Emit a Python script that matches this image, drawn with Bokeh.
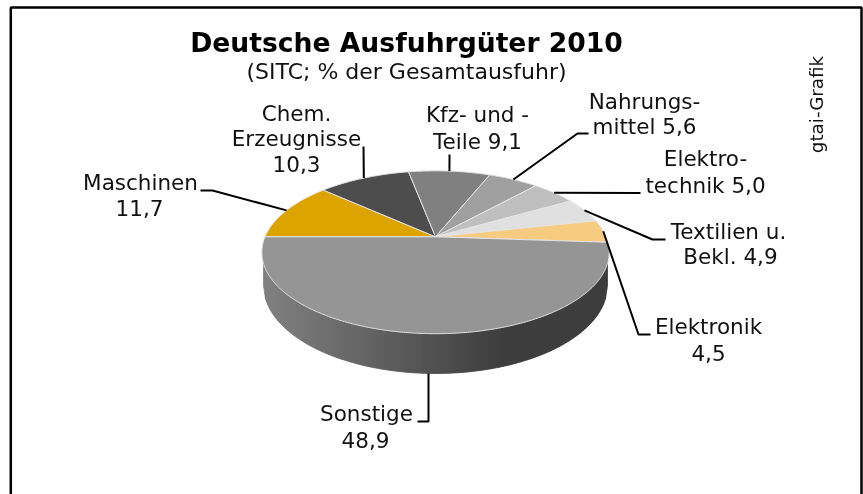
import numpy as np
from bokeh.plotting import figure
from bokeh.models import Range1d
from bokeh.core.properties import value
from bokeh.embed import file_html
from bokeh.resources import INLINE

# ---- data (clockwise from the left, horizontal edge) ----
categories = ["Maschinen", "Chem. Erzeugnisse", "Kfz- und -Teile", "Nahrungsmittel",
              "Elektrotechnik", "Textilien u. Bekl.", "Elektronik", "Sonstige"]
shares = [11.7, 10.3, 9.1, 5.6, 5.0, 4.9, 4.5, 48.9]
slice_colors = ["#DDA400", "#4D4D4D", "#808080", "#A0A0A0",
                "#BFBFBF", "#E0E0E0", "#F7CB80", "#959595"]
label_templates = [["Maschinen", "{}"], ["Chem.", "Erzeugnisse", "{}"], ["Kfz- und -", "Teile {}"],
                   ["Nahrungs-", "mittel {}"], ["Elektro-", "technik {}"],
                   ["Textilien u.", "Bekl. {}"], ["Elektronik", "{}"], ["Sonstige", "{}"]]
title_text = "Deutsche Ausfuhrgüter 2010"
subtitle_text = "(SITC; % der Gesamtausfuhr)"
source_text = "gtai-Grafik"

# ---- layout (page pixels) ----
W, H = 863, 494
FONT = value("DejaVu Sans")
CX, CY = 435.0, 236.3          # apex of the pie
R, A, K = 170.5, 78.5, 0.19    # perspective tilt of the top face
BOT_CY, BOT_RX, BOT_RY = 285.0, 172.0, 88.0   # lower rim of the wall
label_pos = [[(140, 182), (139, 207)],
             [(296, 113), (296, 138), (296, 163)],
             [(477, 114), (477, 141)],
             [(644, 101), (644, 126)],
             [(705, 158), (705, 185)],
             [(728, 231), (730, 256)],
             [(708, 326), (708, 352)],
             [(366, 413), (365, 439)]]
leader_tail = [[(212, 190), (200, 190)], [(363, 146)], [(449, 154)],
               [(577, 133), (588, 133)], [(640, 192.5)],
               [(652, 239), (665, 239)], [(638, 334), (650, 334)],
               [(428, 421), (417, 421)]]

def project(deg):
    t = np.radians(deg)
    X, Y = np.cos(t), np.sin(t)
    w = 1 + K * Y
    return CX + R * X / w, CY - A * Y / w

p = figure(width=W, height=H, output_backend="svg", toolbar_location=None,
           x_range=Range1d(0, W), y_range=Range1d(H, 0), min_border=0,
           x_axis_location=None, y_axis_location=None)
p.grid.visible = False
p.outline_line_color = None
p.styles = {"position": "fixed", "left": "0px", "top": "0px"}

# frame (its bottom edge lies outside the picture)
p.quad(left=[10.3], right=[861], top=[7], bottom=[520], fill_color="white",
       line_color="black", line_width=2.5)

# side wall as shaded vertical strips
xs_edges = np.arange(CX - BOT_RX, CX + BOT_RX + 0.01, 2.0)
def wall_bottom(x):
    return BOT_CY + BOT_RY * np.sqrt(np.clip(1 - ((x - CX) / BOT_RX) ** 2, 0, 1))
strip_x, strip_y, strip_c = [], [], []
for a, b in zip(xs_edges[:-1], xs_edges[1:]):
    strip_x.append([a, b, b, a])
    strip_y.append([251, 251, wall_bottom(b), wall_bottom(a)])
    f = min(((a + b) / 2 - (CX - BOT_RX)) / 240.0, 1.0)
    g = int(round(128 - f * 68))
    strip_c.append(f"#{g:02x}{g:02x}{g:02x}")
p.patches(strip_x, strip_y, fill_color=strip_c, line_color=strip_c, line_width=0.8)

# top face
fracs = np.array(shares) / sum(shares) * 360.0
angle = 180.0
mids = []
for frac, col in zip(fracs, slice_colors):
    th = np.linspace(angle, angle - frac, max(int(frac), 4) * 2)
    ex, ey = project(th)
    p.patch([CX, *ex], [CY, *ey], fill_color=col, line_color="#E4E4E4", line_width=1.0)
    mids.append(angle - frac / 2)
    angle -= frac

# leaders
for i, (mid, tail) in enumerate(zip(mids, leader_tail)):
    ax, ay = project(mid)
    if categories[i] == "Sonstige":
        ax, ay = tail[0][0], float(wall_bottom(tail[0][0]))
    p.line([ax] + [q[0] for q in tail], [ay] + [q[1] for q in tail],
           line_color="black", line_width=2)

# labels
for tmpl, pos, v in zip(label_templates, label_pos, shares):
    txt = [s.format(f"{v:.1f}".replace(".", ",")) for s in tmpl]
    p.text([q[0] for q in pos], [q[1] for q in pos], text=txt, text_font=FONT,
           text_font_size="21.5px", text_align="center", text_baseline="middle",
           text_color="#111111")

p.text([406], [42], text=[title_text], text_font=FONT, text_font_style="bold",
       text_font_size="26.6px", text_align="center", text_baseline="middle", text_color="#000000")
p.text([406], [71], text=[subtitle_text], text_font=FONT, text_font_size="22px",
       text_align="center", text_baseline="middle", text_color="#111111")
p.text([816], [104], text=[source_text], text_font=FONT, text_font_size="18.3px",
       angle=[np.pi / 2], text_align="center", text_baseline="middle", text_color="#111111")

open("out.html", "w").write(file_html(p, INLINE))
